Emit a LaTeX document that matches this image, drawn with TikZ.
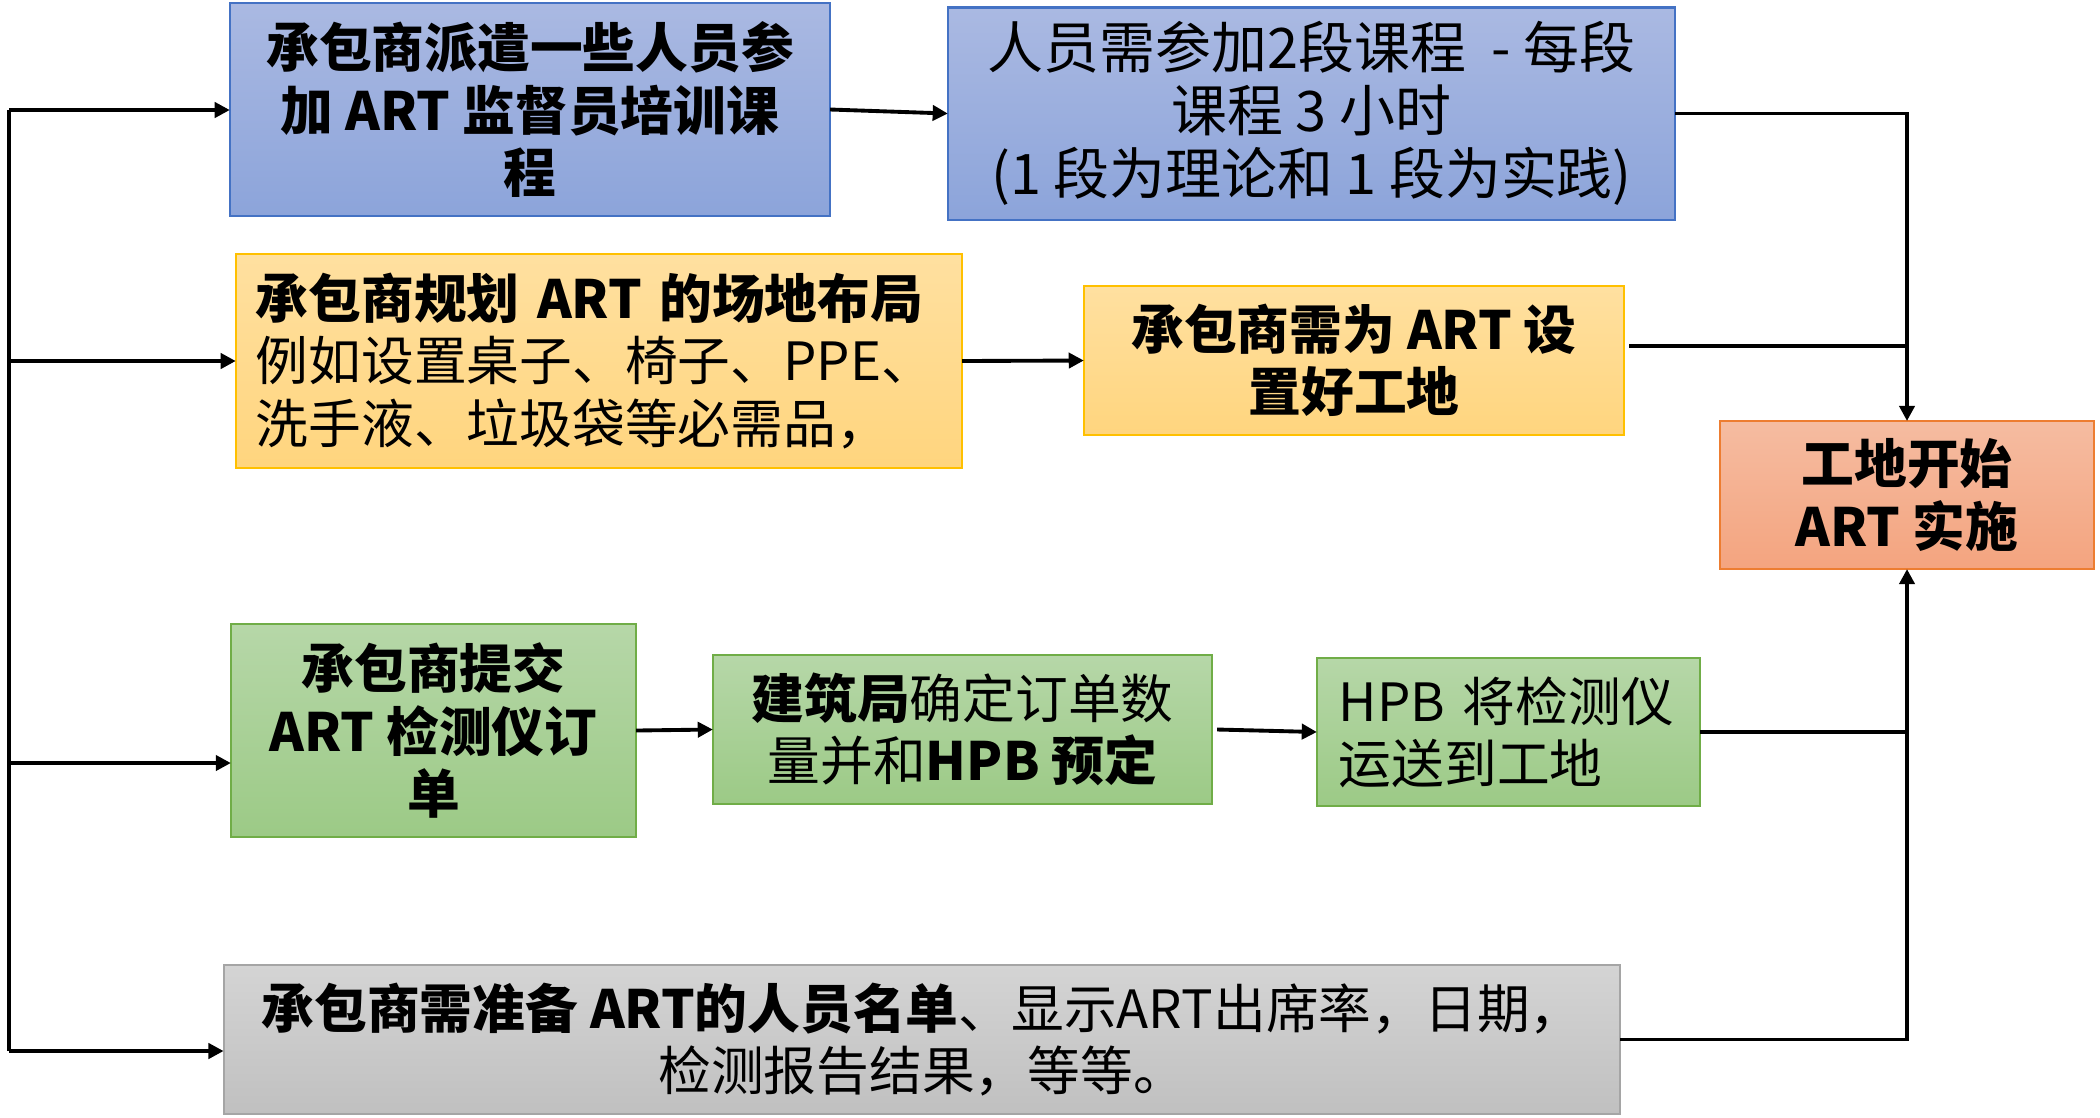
\documentclass[tikz,border=0pt]{standalone}
\usepackage{fontspec}
\setmainfont{Noto Sans CJK SC}
\usetikzlibrary{arrows.meta,calc}
\definecolor{bluT}{HTML}{AAB9E2}
\definecolor{bluB}{HTML}{8CA4DA}
\definecolor{bluD}{HTML}{4472C4}
\definecolor{orT}{HTML}{FFE0A0}
\definecolor{orB}{HTML}{FFD57E}
\definecolor{orD}{HTML}{FFC000}
\definecolor{saT}{HTML}{F5BCA1}
\definecolor{saB}{HTML}{F4A47F}
\definecolor{saD}{HTML}{ED7D31}
\definecolor{grT}{HTML}{B6D7A8}
\definecolor{grB}{HTML}{9CCA86}
\definecolor{grD}{HTML}{70AD47}
\definecolor{gyT}{HTML}{D4D4D4}
\definecolor{gyB}{HTML}{C0C0C0}
\definecolor{gyD}{HTML}{A5A5A5}
\begin{document}
\begin{tikzpicture}[x=0.01cm,y=-0.01cm,
  box/.style={draw, line width=0.6pt, inner sep=0pt, outer sep=0pt, align=center,
    font=\fontsize{15pt}{17.7pt}\selectfont},
  blu/.style={box, top color=bluT, bottom color=bluB, draw=bluD},
  org/.style={box, top color=orT, bottom color=orB, draw=orD},
  sal/.style={box, top color=saT, bottom color=saB, draw=saD},
  grn/.style={box, top color=grT, bottom color=grB, draw=grD},
  gry/.style={box, top color=gyT, bottom color=gyB, draw=gyD},
  wire/.style={line width=1.1pt, black},
  conn/.style={wire, -{Triangle[length=4.3pt,width=4.3pt]}}]
\useasboundingbox (0,0) rectangle (2100,1117);

\node[blu, minimum width=6.00cm, minimum height=2.13cm] (A) at (530,109.5)
  {\bfseries 承包商派遣一些人员参\\\bfseries 加 ART 监督员培训课\\\bfseries 程};
\node[blu, minimum width=7.27cm, minimum height=2.12cm,
  font=\fontsize{15.9pt}{18pt}\selectfont] (B) at (1311.5,113.5)
  {人员需参加2段课程\ \ - 每段\\课程 3 小时\\(1 段为理论和 1 段为实践)};
\node[org, minimum width=7.26cm, minimum height=2.14cm, inner xsep=0.2cm,
  text width=6.86cm, align=left] (C) at (599,361)
  {\textbf{承包商规划 ART 的场地布局}\\例如设置桌子、椅子、PPE、\\洗手液、垃圾袋等必需品，};
\node[org, minimum width=5.40cm, minimum height=1.49cm] (D) at (1354,360.5)
  {\bfseries 承包商需为 ART 设\\\bfseries 置好工地};
\node[sal, minimum width=3.74cm, minimum height=1.48cm] (E) at (1907,495)
  {\bfseries 工地开始\\\bfseries ART 实施};
\node[grn, minimum width=4.05cm, minimum height=2.13cm] (F) at (433.5,730.5)
  {\bfseries 承包商提交\\\bfseries ART 检测仪订\\\bfseries 单};
\node[grn, minimum width=4.99cm, minimum height=1.49cm] (G) at (962.5,729.5)
  {\textbf{建筑局}确定订单数\\量并和\textbf{HPB 预定}};
\node[grn, minimum width=3.83cm, minimum height=1.48cm, inner xsep=0.22cm,
  text width=3.39cm, align=left] (H) at (1508.5,732)
  {HPB 将检测仪\\运送到工地};
\node[gry, minimum width=13.96cm, minimum height=1.49cm] (I) at (922,1039.5)
  {\textbf{承包商需准备 ART的人员名单}、显示ART出席率，日期，\\检测报告结果，等等。};

% left trunk
\coordinate (tt) at (9,110);
\coordinate (tf) at (9,763);
\coordinate (tb) at (9,1051);
\draw[wire] (tt) -- (tb);
\draw[conn] (tt) -- (tt -| A.west);
\draw[conn] (tt |- C.west) -- (C.west);
\draw[conn] (tf) -- (tf -| F.west);
\draw[conn] (tb) -- (tb -| I.west);

% row links
\draw[conn] (A.east) -- (B.west);
\draw[conn] (C.east) -- (D.west);
\draw[conn] (F.east) -- (G.west);
\draw[conn] ($(G.east)+(5,0)$) -- (H.west);

% right collector
\coordinate (dR) at (1629,346);
\draw[conn] (B.east) -| (E.north);
\draw[wire] (dR) -- (dR -| E.north);
\draw[wire] (H.east) -- (H.east -| E.north);
\draw[conn] (I.east) -| (E.south);
\end{tikzpicture}
\end{document}
